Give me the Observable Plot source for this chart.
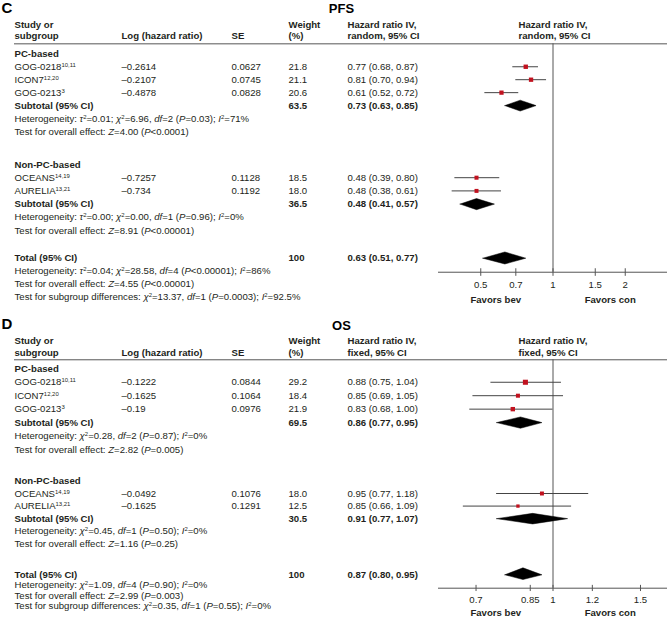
<!DOCTYPE html>
<html><head><meta charset="utf-8">
<script src="https://cdn.jsdelivr.net/npm/d3@7"></script>
<script src="https://cdn.jsdelivr.net/npm/@observablehq/plot@0.6"></script>
<style>
html,body{margin:0;padding:0;background:#fff}
#chart svg{display:block}
</style>
</head><body><div id="chart"></div>
<script>
// ---------- data ----------
const studies = ["GOG-0218", "ICON7", "GOG-0213", "OCEANS", "AURELIA"];
const studyRefs = ["10,11", "12,20", "3", "14,19", "13,21"];
const studyGroup = [0, 0, 0, 1, 1];
const groups = ["PC-based", "Non-PC-based"];

// Panel C – PFS (random effects)
const pfsLogHR = ["–0.2614", "–0.2107", "–0.4878", "–0.7257", "–0.734"];
const pfsSE = ["0.0627", "0.0745", "0.0828", "0.1128", "0.1192"];
const pfsWeight = ["21.8", "21.1", "20.6", "18.5", "18.0"];
const pfsHR = [0.77, 0.81, 0.61, 0.48, 0.48];
const pfsLo = [0.68, 0.70, 0.52, 0.39, 0.38];
const pfsHi = [0.87, 0.94, 0.72, 0.60, 0.61]; // OCEANS whisker as drawn in the figure
const pfsCI = ["0.77 (0.68, 0.87)", "0.81 (0.70, 0.94)", "0.61 (0.52, 0.72)", "0.48 (0.39, 0.80)", "0.48 (0.38, 0.61)"];
const pfsSubHR = [0.73, 0.48];
const pfsSubLo = [0.63, 0.41];
const pfsSubHi = [0.85, 0.57];
const pfsSubWeight = ["63.5", "36.5"];
const pfsSubCI = ["0.73 (0.63, 0.85)", "0.48 (0.41, 0.57)"];
const pfsSubHet = [
  "Heterogeneity: {i}τ{/i}{sup}2{/sup}=0.01; {i}χ{/i}{sup}2{/sup}=6.96, {i}df{/i}=2 ({i}P{/i}=0.03); {i}I{/i}{sup}2{/sup}=71%",
  "Heterogeneity: {i}τ{/i}{sup}2{/sup}=0.00; {i}χ{/i}{sup}2{/sup}=0.00, {i}df{/i}=1 ({i}P{/i}=0.96); {i}I{/i}{sup}2{/sup}=0%"
];
const pfsSubEffect = [
  "Test for overall effect: {i}Z{/i}=4.00 ({i}P{/i}<0.0001)",
  "Test for overall effect: {i}Z{/i}=8.91 ({i}P{/i}<0.00001)"
];
const pfsTotal = [0.63, 0.51, 0.77];
const pfsTotalCI = "0.63 (0.51, 0.77)";
const pfsFooter = [
  "Heterogeneity: {i}τ{/i}{sup}2{/sup}=0.04; {i}χ{/i}{sup}2{/sup}=28.58, {i}df{/i}=4 ({i}P{/i}<0.00001); {i}I{/i}{sup}2{/sup}=86%",
  "Test for overall effect: {i}Z{/i}=4.55 ({i}P{/i}<0.00001)",
  "Test for subgroup differences: {i}χ{/i}{sup}2{/sup}=13.37, {i}df{/i}=1 ({i}P{/i}=0.0003); {i}I{/i}{sup}2{/sup}=92.5%"
];
const pfsTicks = [0.5, 0.7, 1, 1.5, 2];
const pfsTickLabels = ["0.5", "0.7", "1", "1.5", "2"];

// Panel D – OS (fixed effects)
const osLogHR = ["–0.1222", "–0.1625", "–0.19", "–0.0492", "–0.1625"];
const osSE = ["0.0844", "0.1064", "0.0976", "0.1076", "0.1291"];
const osWeight = ["29.2", "18.4", "21.9", "18.0", "12.5"];
const osHR = [0.88, 0.85, 0.83, 0.95, 0.85];
const osLo = [0.75, 0.69, 0.68, 0.77, 0.66];
const osHi = [1.04, 1.05, 1.00, 1.18, 1.09];
const osCI = ["0.88 (0.75, 1.04)", "0.85 (0.69, 1.05)", "0.83 (0.68, 1.00)", "0.95 (0.77, 1.18)", "0.85 (0.66, 1.09)"];
const osSubHR = [0.86, 0.91];
const osSubLo = [0.77, 0.77];
const osSubHi = [0.95, 1.07];
const osSubWeight = ["69.5", "30.5"];
const osSubCI = ["0.86 (0.77, 0.95)", "0.91 (0.77, 1.07)"];
const osSubHet = [
  "Heterogeneity: {i}χ{/i}{sup}2{/sup}=0.28, {i}df{/i}=2 ({i}P{/i}=0.87); {i}I{/i}{sup}2{/sup}=0%",
  "Heterogeneity: {i}χ{/i}{sup}2{/sup}=0.45, {i}df{/i}=1 ({i}P{/i}=0.50); {i}I{/i}{sup}2{/sup}=0%"
];
const osSubEffect = [
  "Test for overall effect: {i}Z{/i}=2.82 ({i}P{/i}=0.005)",
  "Test for overall effect: {i}Z{/i}=1.16 ({i}P{/i}=0.25)"
];
const osTotal = [0.87, 0.80, 0.95];
const osTotalCI = "0.87 (0.80, 0.95)";
const osFooter = [
  "Heterogeneity: {i}χ{/i}{sup}2{/sup}=1.09, {i}df{/i}=4 ({i}P{/i}=0.90); {i}I{/i}{sup}2{/sup}=0%",
  "Test for overall effect: {i}Z{/i}=2.99 ({i}P{/i}=0.003)",
  "Test for subgroup differences: {i}χ{/i}{sup}2{/sup}=0.35, {i}df{/i}=1 ({i}P{/i}=0.55); {i}I{/i}{sup}2{/sup}=0%"
];
// tick positions and labels as they appear in the figure
const osTicks = [0.7, 0.9, 1, 1.2, 1.5];
const osTickLabels = ["0.7", "0.85", "1", "1.2", "1.5"];

// ---------- layout / style ----------
const W = 667, H = 309;
const FONT = "'Liberation Sans', Arial, Helvetica, sans-serif";
const FS = 9.6;
const INK = "#231f20";
const cols = {study: 14, log: 121, se: 231, weight: 288, ci: 347, ci2: 518};

const panels = [
  {
    letter: "C", title: "PFS", model: "random",
    logHR: pfsLogHR, se: pfsSE, weight: pfsWeight, hr: pfsHR, lo: pfsLo, hi: pfsHi, ci: pfsCI,
    subHR: pfsSubHR, subLo: pfsSubLo, subHi: pfsSubHi, subWeight: pfsSubWeight, subCI: pfsSubCI,
    subHet: pfsSubHet, subEffect: pfsSubEffect, total: pfsTotal, totalCI: pfsTotalCI, footer: pfsFooter,
    ticks: pfsTicks, tickLabels: pfsTickLabels, xDomain: [1 / 3, 3],
    layout: {yDomain: [0, 6, 13.5, 15.5, 18.5], yRange: [53.3, 131, 230, 257.7, 296.3],
             title: -3.54, head1: -2.26, head2: -1.41, rule: -0.77, axis: 16.59, tickDy: 12.6, favDy: 27.3}
  },
  {
    letter: "D", title: "OS", model: "fixed",
    logHR: osLogHR, se: osSE, weight: osWeight, hr: osHR, lo: osLo, hi: osHi, ci: osCI,
    subHR: osSubHR, subLo: osSubLo, subHi: osSubHi, subWeight: osSubWeight, subCI: osSubCI,
    subHet: osSubHet, subEffect: osSubEffect, total: osTotal, totalCI: osTotalCI, footer: osFooter,
    ticks: osTicks, tickLabels: osTickLabels, xDomain: [1 / 1.7, 1.7],
    layout: {yDomain: [0, 6, 13.5, 15.5, 18.5], yRange: [59.3, 140, 234.3, 265.3, 296.7],
             title: -3.3, head1: -2.05, head2: -1.16, rule: -0.67, axis: 16.78, tickDy: 11.6, favDy: 24.5}
  }
];

function buildPanel(P) {
  const L = P.layout;
  const text = [], pts = [], dia = [];
  let i = 0;
  groups.forEach((g, gi) => {
    text.push({i, col: "study", t: `{b}${g}{/b}`});
    studies.forEach((s, k) => {
      if (studyGroup[k] !== gi) return;
      i += 1;
      text.push({i, col: "study", t: `${s}{sup}${studyRefs[k]}{/sup}`});
      text.push({i, col: "log", t: P.logHR[k]});
      text.push({i, col: "se", t: P.se[k]});
      text.push({i, col: "weight", t: P.weight[k]});
      text.push({i, col: "ci", t: P.ci[k]});
      pts.push({i, hr: P.hr[k], lo: P.lo[k], hi: P.hi[k], w: +P.weight[k]});
    });
    i += 1;
    text.push({i, col: "study", t: "{b}Subtotal (95% CI){/b}"});
    text.push({i, col: "weight", t: `{b}${P.subWeight[gi]}{/b}`});
    text.push({i, col: "ci", t: `{b}${P.subCI[gi]}{/b}`});
    dia.push({i, hr: P.subHR[gi], lo: P.subLo[gi], hi: P.subHi[gi], h: 0.42});
    i += 1; text.push({i, col: "study", t: P.subHet[gi]});
    i += 1; text.push({i, col: "study", t: P.subEffect[gi]});
    i += 2.5;
  });
  i -= 0.5;
  text.push({i, col: "study", t: "{b}Total (95% CI){/b}"});
  text.push({i, col: "weight", t: "{b}100{/b}"});
  text.push({i, col: "ci", t: `{b}${P.totalCI}{/b}`});
  dia.push({i, hr: P.total[0], lo: P.total[1], hi: P.total[2], h: 0.45});
  P.footer.forEach(f => { i += 1; text.push({i, col: "study", t: f}); });

  // header cells
  const head = [
    {i: L.head1, col: "study", t: "{b}Study or{/b}"},
    {i: L.head2, col: "study", t: "{b}subgroup{/b}"},
    {i: L.head2, col: "log", t: "{b}Log (hazard ratio){/b}"},
    {i: L.head2, col: "se", t: "{b}SE{/b}"},
    {i: L.head1, col: "weight", t: "{b}Weight{/b}"},
    {i: L.head2, col: "weight", t: "{b}(%){/b}"},
    {i: L.head1, col: "ci", t: "{b}Hazard ratio IV,{/b}"},
    {i: L.head2, col: "ci", t: `{b}${P.model}, 95% CI{/b}`},
    {i: L.head1, col: "ci2", t: "{b}Hazard ratio IV,{/b}"},
    {i: L.head2, col: "ci2", t: `{b}${P.model}, 95% CI{/b}`}
  ];
  const allText = text.concat(head);

  const diaPts = dia.flatMap((d, k) => [
    {id: k, x: d.lo, y: d.i}, {id: k, x: d.hr, y: d.i - d.h}, {id: k, x: d.hi, y: d.i},
    {id: k, x: d.hr, y: d.i + d.h}, {id: k, x: d.lo, y: d.i}
  ]);

  const textMarks = Object.keys(cols).map(c =>
    Plot.text(allText.filter(d => d.col === c), {
      y: "i", text: "t", frameAnchor: "left", textAnchor: "start", dx: cols[c],
      fill: INK, fontSize: FS
    })
  );

  const [d0, d1] = P.xDomain;
  const svg = Plot.plot({
    width: W, height: H, margin: 0,
    style: {fontFamily: FONT, fontSize: FS + "px", color: INK, background: "#fff"},
    x: {type: "log", domain: P.xDomain, range: [438, 667], axis: null},
    y: {type: "linear", domain: L.yDomain, range: L.yRange, axis: null},
    r: {type: "sqrt", domain: [0, 30], range: [0, 2.9]},
    marks: [
      // header rule
      Plot.ruleY([L.rule], {insetLeft: 14, stroke: "#555", strokeWidth: 1}),
      // line of no effect
      Plot.ruleX([1], {y1: L.rule, y2: L.axis, stroke: "#555", strokeWidth: 1}),
      // axis line and ticks
      Plot.ruleY([L.axis], {x1: d0, x2: d1, stroke: "#555", strokeWidth: 1}),
      Plot.ruleX(P.ticks, {x: d => d, y1: L.axis - 0.27, y2: L.axis + 0.32, stroke: "#555", strokeWidth: 1}),
      Plot.text(P.ticks, {x: d => d, y: () => L.axis, dy: L.tickDy, text: (d, k) => P.tickLabels[k], fill: INK, fontSize: FS}),
      Plot.text(["Favors bev", "Favors con"], {
        x: (d, k) => k === 0 ? Math.sqrt(d0) : Math.sqrt(d1), y: () => L.axis, dy: L.favDy,
        text: d => d, fontWeight: "bold", fill: INK, fontSize: FS
      }),
      // study whiskers and squares
      Plot.ruleY(pts, {x1: "lo", x2: "hi", y: "i", stroke: "#444", strokeWidth: 1}),
      Plot.dot(pts, {x: "hr", y: "i", r: "w", symbol: "square", fill: "#c1121f", stroke: "none"}),
      // summary diamonds
      Plot.line(diaPts, {x: "x", y: "y", z: "id", fill: "#000", stroke: "#000", strokeWidth: 0.5}),
      // panel letter and title
      Plot.text([P.letter], {y: () => L.title, frameAnchor: "left", textAnchor: "start", dx: 1, text: d => d, fontWeight: "bold", fontSize: 15, fill: "#000"}),
      Plot.text([P.title], {y: () => L.title + 0.1, frameAnchor: "left", textAnchor: "middle", dx: 341, text: d => d, fontWeight: "bold", fontSize: 13, fill: "#000"}),
      ...textMarks
    ]
  });
  richify(svg);
  return svg;
}

function richify(svg) {
  const NS = "http://www.w3.org/2000/svg";
  const re = /(\{\/?(?:i|b|sup)\})/;
  svg.querySelectorAll("text").forEach(t => {
    const targets = t.querySelectorAll("tspan").length ? Array.from(t.querySelectorAll("tspan")) : [t];
    targets.forEach(el => {
      const s = el.textContent;
      if (!re.test(s)) return;
      const parts = s.split(re);
      const st = {i: false, b: false, sup: false};
      while (el.firstChild) el.removeChild(el.firstChild);
      for (const p of parts) {
        const m = p.match(/^\{(\/?)(i|b|sup)\}$/);
        if (m) { st[m[2]] = !m[1]; continue; }
        if (!p) continue;
        const ts = document.createElementNS(NS, "tspan");
        ts.textContent = p;
        if (st.i) ts.setAttribute("font-style", "italic");
        if (st.b) ts.setAttribute("font-weight", "bold");
        if (st.sup) { ts.setAttribute("font-size", "0.62em"); ts.setAttribute("baseline-shift", "super"); }
        el.appendChild(ts);
      }
    });
  });
}

const root = document.getElementById("chart");
panels.forEach(P => root.appendChild(buildPanel(P)));
</script>
</body></html>
